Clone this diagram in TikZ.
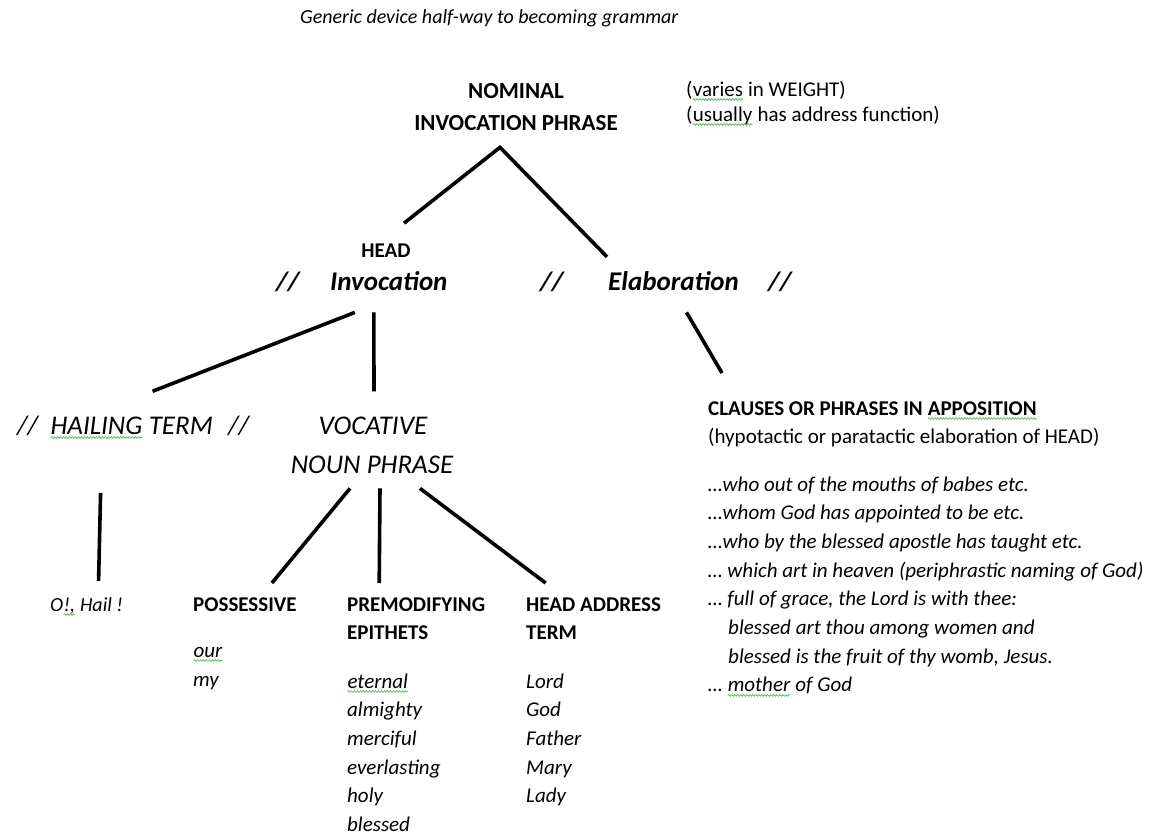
\documentclass[tikz,border=0pt]{standalone}
\usepackage{fontspec}
\setmainfont{Carlito}
\usetikzlibrary{calc, decorations.pathmorphing}

\definecolor{spellgreen}{RGB}{90,185,90}

\newcommand{\nsz}{\fontsize{21}{28}\selectfont}
\newcommand{\bsz}{\fontsize{27}{34}\selectfont}
% green spell-check wave under a word
\newcommand{\spell}[1]{\tikz[baseline = (sw.base)]{%
    \node[inner sep = 0pt, outer sep = 0pt, anchor = base] (sw) {#1};
    \draw[spellgreen, line width = 0.7pt, decorate, decoration = {snake, amplitude = 0.9pt, segment length = 3pt}]
        ([yshift = -3.5pt]sw.base west) -- ([yshift = -3.5pt]sw.base east);}}

\tikzset{
    txt/.style = {inner sep = 0pt, anchor = base west, font = \nsz},
    bld/.style = {txt, font = \nsz\bfseries},
    itl/.style = {txt, font = \nsz\itshape},
    big/.style = {txt, font = \bsz\itshape},
    bigb/.style = {txt, font = \bsz\bfseries\itshape},
    branch/.style = {line width = 3.6pt}
}

\begin{document}
\begin{tikzpicture}[x = 1pt, y = -1pt]
    \useasboundingbox (0, 0) rectangle (1154, 836);

    \node[itl, font = \fontsize{20}{26}\selectfont\itshape] (title) at (300, 23) {Generic device half-way to becoming grammar};

    % top of the tree
    \node[bld, anchor = base, font = \fontsize{23}{28}\selectfont\bfseries] (nom) at (516, 98) {NOMINAL};
    \node[bld, anchor = base, font = \fontsize{23}{28}\selectfont\bfseries] (nip) at (516, 130) {INVOCATION PHRASE};
    \node[txt] (weight) at (686, 96) {(\spell{varies} in WEIGHT)};
    \node[txt] (address) at (686, 121) {(\spell{usually} has address function)};

    \node[bld, anchor = base] (head) at (386, 257) {HEAD};
    \node[bigb] (sla) at (276, 290) {//};
    \node[bigb] (inv) at (330, 290) {Invocation};
    \node[bigb] (slb) at (540, 290) {//};
    \node[bigb] (elab) at (608, 290) {Elaboration};
    \node[bigb] (slc) at (768, 290) {//};

    \draw[branch] ($(head.north) + (18, -20)$) -- ($(nip.south) + (-16, 17)$) -- ($(elab.north west) + (-1, -14)$);

    % second level
    \node[big] (slhl) at (17, 434) {//};
    \node[big] (hail) at (50, 434) {\spell{HAILING} TERM};
    \node[big] (slhr) at (228, 434) {//};
    \node[big, anchor = base] (voc) at (373, 434) {VOCATIVE};
    \node[big, anchor = base] (np) at (372, 473) {NOUN PHRASE};

    \draw[branch] ($(inv.south) + (-34, 22)$) -- ($(hail.north) + (21, -25)$);
    \draw[branch] ($(inv.south) + (-15, 22)$) -- ($(voc.north) + (1, -25)$);

    % apposition
    \node[bld] (clause) at (708, 415) {CLAUSES OR PHRASES IN \spell{APPOSITION}};
    \node[txt] (hypo) at (708, 443) {(hypotactic or paratactic elaboration of HEAD)};
    \draw[branch] ($(elab.south) + (13, 22)$) -- ($(clause.north west) + (14, -28)$);

    \foreach \apline [count = \i] in {
        {\ldots who out of the mouths of babes etc.},
        {\ldots whom God has appointed to be etc.},
        {\ldots who by the blessed apostle has taught etc.},
        {\ldots\ which art in heaven (periphrastic naming of God)},
        {\ldots\ full of grace, the Lord is with thee:},
        {\hspace*{20pt}blessed art thou among women and},
        {\hspace*{20pt}blessed is the fruit of thy womb, Jesus.},
        {\ldots\ \spell{mother} of God}} {
        \node[itl] (ap\i) at (708, {462.3 + 28.7*\i}) {\apline};
    }

    % third level
    \node[itl, font = \fontsize{20}{26}\selectfont\itshape] (oh) at (50, 611) {O\spell{!,} Hail !};
    \node[bld] (poss) at (193, 611) {POSSESSIVE};
    \node[bld] (prem) at (347, 611) {PREMODIFYING};
    \node[bld] (epi) at (347, 639) {EPITHETS};
    \node[bld] (had) at (526, 611) {HEAD ADDRESS};
    \node[bld] (term) at (526, 639) {TERM};

    \draw[branch] ($(hail.south) + (-31, 54)$) -- ($(oh.north) + (12, -16)$);
    \draw[branch] ($(np.south) + (-22, 15)$) -- ($(poss.north) + (27, -14)$);
    \draw[branch] ($(np.south) + (8, 15)$) -- ($(prem.north) + (-37, -14)$);
    \draw[branch] ($(np.south) + (48, 15)$) -- ($(had.north) + (-48, -14)$);

    \node[itl] (our) at (193, 657) {\spell{our}};
    \node[itl] (my) at (193, 686) {my};

    \foreach \word [count = \i] in {{\spell{eternal}}, almighty, merciful, everlasting, holy, blessed} {
        \node[itl] (ep\i) at (347, {659.3 + 28.7*\i}) {\word};
    }
    \foreach \word [count = \i] in {Lord, God, Father, Mary, Lady} {
        \node[itl] (ad\i) at (526, {659.3 + 28.7*\i}) {\word};
    }
\end{tikzpicture}
\end{document}
